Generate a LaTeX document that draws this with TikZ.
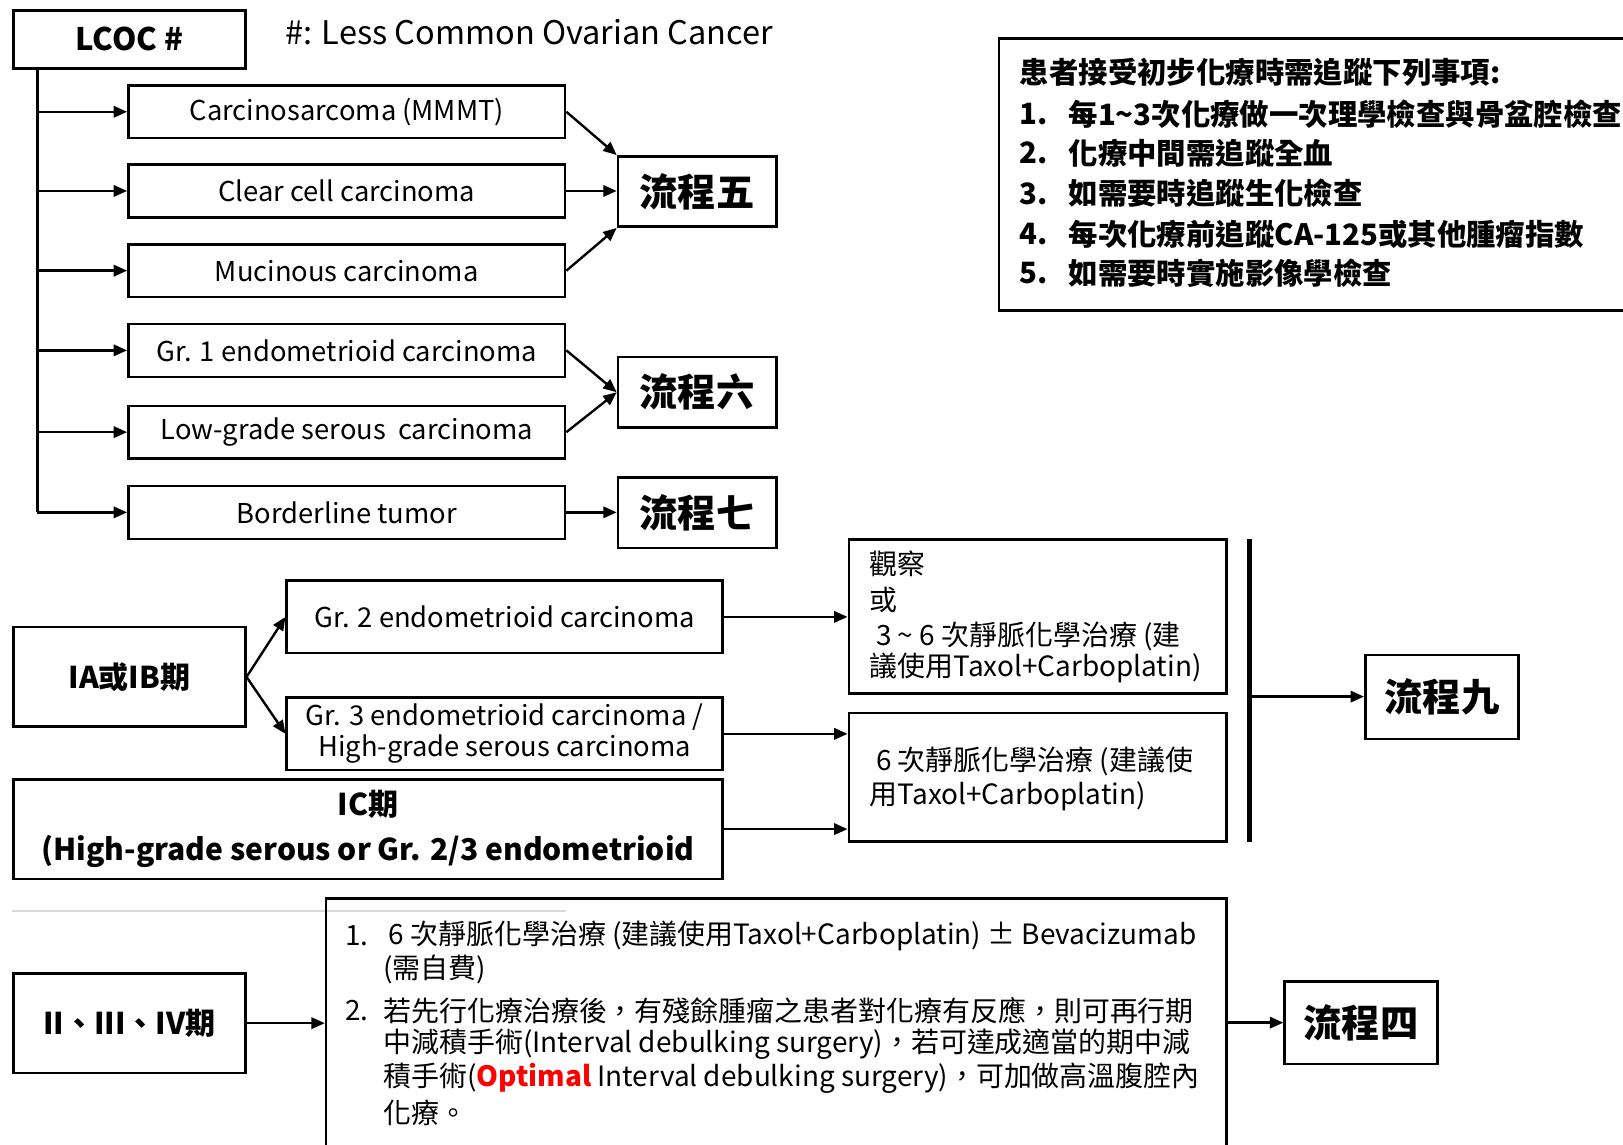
\documentclass[tikz,border=0pt]{standalone}
\usepackage{fontspec}
\setmainfont{Noto Sans CJK TC}
\usetikzlibrary{arrows.meta}
\begin{document}
\begin{tikzpicture}[x={(0.5pt,0)}, y={(0,-0.5pt)},
  box/.style={draw, line width=1.2pt, inner sep=0pt, align=center},
  arr/.style={-{Triangle[length=6.5pt,width=5.5pt]}, line width=1.15pt},
  txt/.style={inner sep=0pt, anchor=west, font=\fontsize{13.5}{16}\selectfont},
  btxt/.style={inner sep=0pt, anchor=west, font=\fontsize{14.2}{17}\selectfont\bfseries},
  body/.style={font=\fontsize{13.2}{16}\selectfont},
  stage/.style={box, minimum width=112pt, minimum height=48pt, font=\fontsize{14.5}{17}\selectfont\bfseries},
  flow/.style={box, minimum width=76.5pt, minimum height=34pt, font=\fontsize{18.5}{21}\selectfont\bfseries},
  sub/.style={box, minimum width=211pt, minimum height=25.5pt, body},
]
\useasboundingbox (0,0) rectangle (1568,1106);

% ---------- top part ----------
\node[box, minimum width=112pt, minimum height=28pt, font=\fontsize{15}{18}\selectfont\bfseries] (lcoc) at (125,38) {LCOC \#};
\node[inner sep=0pt, anchor=west, font=\fontsize{15.7}{18}\selectfont] (legend) at (275,31) {\#: Less Common Ovarian Cancer};

\node[sub] (c1) at (335,108) {Carcinosarcoma (MMMT)};
\node[sub] (c2) at (335,184.5) {Clear cell carcinoma};
\node[sub] (c3) at (335,261.5) {Mucinous carcinoma};
\node[sub] (c4) at (335,338.5) {Gr. 1 endometrioid carcinoma};
\node[sub] (c5) at (335,417.5) {Low-grade serous\ \ carcinoma};
\node[sub] (c6) at (335,495) {Borderline tumor};

\node[flow] (p5) at (673.5,185) {流程五};
\node[flow] (p6) at (673.5,379) {流程六};
\node[flow] (p7) at (673.5,495.5) {流程七};

\coordinate (spine) at (36,66);
\draw[line width=1.2pt] (spine) -- (spine |- c6.west);
\foreach \c in {c1,c2,c3,c4,c5,c6}
  \draw[arr] (spine |- \c.west) -- (\c.west);

\draw[arr] (c1.east) -- (p5.north west);
\draw[arr] (c2.east) -- (c2.east -| p5.west);
\draw[arr] (c3.east) -- (p5.south west);
\draw[arr] (c4.east) -- (p6.west);
\draw[arr] (c5.east) -- (p6.west);
\draw[arr] (c6.east) -- (c6.east -| p7.west);

% ---------- note box ----------
\node[box, minimum width=367.5pt, minimum height=131.5pt] (note) at (1332.5,168.5) {};
\node[btxt] (n0) at (985,70) {患者接受初步化療時需追蹤下列事項:};
\node[btxt] (n1a) at (985,110) {1.};
\node[btxt] (n1) at (1032,110) {每1\textasciitilde3次化療做一次理學檢查與骨盆腔檢查};
\node[btxt] (n2a) at (985,148) {2.};
\node[btxt] (n2) at (1032,148) {化療中間需追蹤全血};
\node[btxt] (n3a) at (985,187) {3.};
\node[btxt] (n3) at (1032,187) {如需要時追蹤生化檢查};
\node[btxt] (n4a) at (985,226) {4.};
\node[btxt] (n4) at (1032,226) {每次化療前追蹤CA-125或其他腫瘤指數};
\node[btxt] (n5a) at (985,264) {5.};
\node[btxt] (n5) at (1032,264) {如需要時實施影像學檢查};

% ---------- middle part ----------
\node[stage] (ia) at (125,654) {IA或IB期};
\node[box, minimum width=210.5pt, minimum height=35pt, body] (g2) at (487.5,596) {Gr. 2 endometrioid carcinoma};
\node[box, minimum width=210.5pt, minimum height=35pt, body] (g3) at (487.5,709) {Gr. 3 endometrioid carcinoma /\\[-1pt]High-grade serous carcinoma};
\node[box, minimum width=342.5pt, minimum height=48pt, font=\fontsize{14.5}{22}\selectfont\bfseries] (ic) at (355.5,801) {IC期\\(High-grade serous or Gr. 2/3 endometrioid};

\node[box, minimum width=182.5pt, minimum height=74.5pt] (obs) at (1002.5,595.5) {};
\node[txt] (o1) at (840,545) {觀察};
\node[txt] (o2) at (840,580) {或};
\node[txt] (o3) at (840,615) {\ 3 \textasciitilde\ 6 次靜脈化學治療 (建};
\node[txt] (o4) at (840,645) {議使用Taxol+Carboplatin)};

\node[box, minimum width=182.5pt, minimum height=62pt] (six) at (1002.5,751) {};
\node[txt] (s1) at (840,736) {\ 6 次靜脈化學治療 (建議使};
\node[txt] (s2) at (840,769) {用Taxol+Carboplatin)};

\draw[arr] (ia.east) -- (g2.west);
\draw[arr] (ia.east) -- (g3.west);
\draw[arr] (g2.east) -- (g2.east -| obs.west);
\draw[arr] (g3.east) -- (g3.east -| six.west);
\draw[arr] (ic.east) -- (ic.east -| six.west);

\coordinate (bt) at (1207,521);
\coordinate (bb) at (1207,813);
\coordinate (bm) at (1207,673);
\draw[line width=2.2pt] (bt) -- (bb);
\node[flow, minimum width=74pt, minimum height=40.5pt] (p9) at (1393,673.5) {流程九};
\draw[arr] (bm) -- (bm -| p9.west);

% ---------- bottom part ----------
\coordinate (fa) at (12,880);
\coordinate (fb) at (547,880);
\draw[black!15, line width=0.8pt] (fa) -- (fb);

\node[stage] (ii) at (125,988.5) {II、III、IV期};
\node[box, minimum width=435pt, minimum height=146pt] (big) at (750,1014) {};
\node[txt] (b1a) at (333,904) {1.};
\node[txt] (b1) at (375,904) {6 次靜脈化學治療 (建議使用Taxol+Carboplatin) ± Bevacizumab};
\node[txt] (b1b) at (370,937) {(需自費)};
\node[txt] (b2a) at (333,976) {2.};
\node[txt] (b2) at (370,976) {若先行化療治療後，有殘餘腫瘤之患者對化療有反應，則可再行期};
\node[txt] (b3) at (370,1009) {中減積手術(Interval debulking surgery)，若可達成適當的期中減};
\node[txt] (b4) at (370,1042) {積手術(\textcolor{red}{\bfseries Optimal} Interval debulking surgery)，可加做高溫腹腔內};
\node[txt] (b5) at (370,1075) {化療。};

\node[flow, minimum width=74pt, minimum height=40pt] (p4) at (1315,988) {流程四};
\draw[arr] (ii.east) -- (ii.east -| big.west);
\draw[arr] (big.east |- p4.west) -- (p4.west);
\end{tikzpicture}
\end{document}
